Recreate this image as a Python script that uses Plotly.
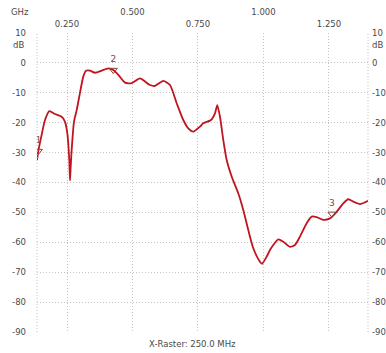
import plotly.graph_objects as go

# Measured transmission response (frequency in GHz, level in dB)
freq_ghz = [0.1355, 0.1405, 0.1534, 0.166, 0.1824, 0.2042, 0.2298, 0.2424, 0.2511,
            0.2588, 0.2615, 0.2640, 0.2679, 0.2767, 0.287, 0.2996, 0.3122, 0.3225,
            0.3378, 0.3569, 0.3824, 0.4076, 0.4267, 0.4458, 0.4714, 0.497, 0.5286,
            0.5668, 0.5859, 0.6176, 0.6431, 0.6687, 0.6939, 0.713, 0.7321, 0.7576,
            0.7702, 0.7958, 0.8023, 0.8149, 0.8237, 0.834, 0.8466, 0.8596, 0.8786,
            0.9038, 0.9229, 0.942, 0.9611, 0.9866, 0.9943, 1.0122, 1.0248, 1.0374,
            1.0565, 1.0756, 1.1011, 1.1202, 1.1393, 1.1649, 1.184, 1.2031, 1.2282,
            1.2538, 1.2794, 1.3046, 1.3237, 1.3429, 1.3683, 1.399]
level_db = [-32.5, -29.5, -24.0, -19.1, -16.1, -17.1, -18.0, -19.7, -23.4,
            -32.5, -39.3, -35.0, -29.0, -19.7, -15.8, -10.0, -4.6, -2.6,
            -2.6, -3.3, -2.6, -1.8, -2.4, -4.0, -6.6, -6.8, -5.2,
            -7.4, -7.7, -6.0, -7.4, -13.5, -19.1, -21.9, -23.0, -21.3,
            -20.2, -19.3, -18.9, -16.9, -14.1, -18.0, -25.8, -32.5, -38.0,
            -43.6, -49.2, -55.9, -62.0, -66.5, -67.2, -64.8, -62.6, -60.9,
            -59.0, -59.8, -61.5, -60.9, -58.1, -53.6, -51.4, -51.6, -52.5,
            -52.0, -49.8, -47.0, -45.6, -46.4, -47.2, -46.1]

# Marker readouts
marker_freq = [0.1405, 0.4267, 1.2614]
marker_db = [-29.5, -2.4, -50.5]
marker_labels = ["1", "2", "3"]

# Axis ticks (top labels alternate between two rows)
x_ticks_low = [0.25, 0.75, 1.25]
x_ticks_high = [0.5, 1.0]
y_ticks = [10, 0, -10, -20, -30, -40, -50, -60, -70, -80, -90]

x_range = [0.1355, 1.399]
y_range = [-90, 10]

font_family = "DejaVu Sans"
text_color = "#4a4a4a"
grid_color = "#c4c4c4"
grid_dash = "1px,2px"
trace_color = "#c0141e"

fig = go.Figure()

fig.add_trace(go.Scatter(
    x=freq_ghz, y=level_db, mode="lines",
    line=dict(color=trace_color, width=1.8, shape="spline", smoothing=0.6),
    hoverinfo="skip", showlegend=False,
))

fig.add_trace(go.Scatter(
    x=marker_freq, y=marker_db, mode="markers+text",
    marker=dict(symbol="triangle-down-open", size=7, color="#8a4438",
                line=dict(width=1, color="#8a4438")),
    text=marker_labels, textposition="top center",
    textfont=dict(family=font_family, size=9, color="#8a4438"),
    showlegend=False, hoverinfo="skip",
))

# Invisible traces to attach secondary axes
fig.add_trace(go.Scatter(x=[None], y=[None], xaxis="x2", yaxis="y", showlegend=False))
fig.add_trace(go.Scatter(x=[None], y=[None], xaxis="x", yaxis="y2", showlegend=False))

tick_font = dict(family=font_family, size=8.5, color=text_color)
grid_style = dict(showgrid=True, gridcolor=grid_color, griddash=grid_dash, gridwidth=1)

fig.update_layout(
    width=386, height=353,
    margin=dict(l=37, r=18, t=33, b=21, autoexpand=False),
    paper_bgcolor="white", plot_bgcolor="white",
    xaxis=dict(
        range=x_range, side="top", tickvals=x_ticks_low,
        ticktext=[f"{v:.3f}" for v in x_ticks_low], **grid_style,
        zeroline=False, showline=False, ticks="", ticklabelstandoff=3,
        tickfont=tick_font, automargin=False,
    ),
    xaxis2=dict(
        range=x_range, side="top", overlaying="x", anchor="y",
        tickvals=x_ticks_high, ticktext=[f"{v:.3f}" for v in x_ticks_high],
        **grid_style, zeroline=False, showline=False, ticks="",
        ticklabelstandoff=15, tickfont=tick_font, automargin=False,
    ),
    yaxis=dict(
        range=y_range, tickvals=y_ticks, ticktext=[str(v) for v in y_ticks],
        **grid_style, zeroline=False, showline=False, ticks="",
        ticklabelstandoff=10, tickfont=tick_font, automargin=False,
    ),
    yaxis2=dict(
        range=y_range, overlaying="y", side="right", anchor="x",
        tickvals=y_ticks, ticktext=[str(v) for v in y_ticks],
        showgrid=False, zeroline=False, showline=False, ticks="",
        ticklabelstandoff=3, tickfont=tick_font, automargin=False,
    ),
    shapes=[
        dict(type="line", xref="paper", yref="paper", x0=0, x1=0, y0=0, y1=1,
             line=dict(color=grid_color, width=1, dash=grid_dash)),
        dict(type="line", xref="paper", yref="paper", x0=1, x1=1, y0=0, y1=1,
             line=dict(color=grid_color, width=1, dash=grid_dash)),
    ],
    annotations=[
        dict(text="GHz", xref="paper", yref="paper", x=0, y=1, xshift=-17, yshift=21,
             showarrow=False, font=tick_font, xanchor="center", yanchor="middle"),
        dict(text="dB", xref="paper", yref="paper", x=0, y=1, xshift=-19, yshift=-12,
             showarrow=False, font=tick_font, xanchor="center", yanchor="middle"),
        dict(text="dB", xref="paper", yref="paper", x=1, y=1, xshift=9, yshift=-12,
             showarrow=False, font=tick_font, xanchor="center", yanchor="middle"),
        dict(text="X-Raster: 250.0 MHz", xref="paper", yref="paper", x=0.471, y=0,
             yshift=-12, showarrow=False, font=tick_font,
             xanchor="center", yanchor="middle"),
    ],
)

fig.write_html("out.html")
